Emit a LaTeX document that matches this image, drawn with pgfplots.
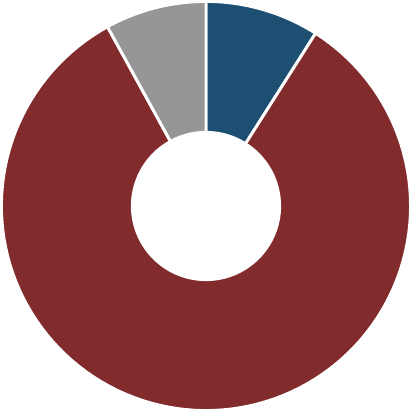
\documentclass[border=0pt]{standalone}
\usepackage{pgfplots}
\usepackage{pgfplotstable}
\pgfplotsset{compat=1.18}
\definecolor{cblue}{RGB}{28,79,114}
\definecolor{cred}{RGB}{130,43,45}
\definecolor{cgray}{RGB}{150,150,150}

% shares in percent, clockwise from the top
\pgfplotstableread{
share color
9  cblue
83 cred
8  cgray
}\shares

\begin{document}
\begin{tikzpicture}
\begin{axis}[
    hide axis, scale only axis,
    width=10cm, height=10cm,
    xmin=-1.015, xmax=1.015, ymin=-1.015, ymax=1.015,
    clip=false,
  ]
\def\start{90}
\pgfplotsforeachungrouped \i in {0,1,2} {
  \pgfplotstablegetelem{\i}{share}\of\shares \let\v\pgfplotsretval
  \pgfplotstablegetelem{\i}{color}\of\shares \let\c\pgfplotsretval
  \pgfmathsetmacro\stop{\start-3.6*\v}
  \edef\temp{\noexpand\draw[fill=\c, draw=white, line width=2pt, line join=round]
    plot[domain=\start:\stop, samples=120, variable=\noexpand\t] ({cos(\noexpand\t)},{sin(\noexpand\t)})
    -- plot[domain=\stop:\start, samples=120, variable=\noexpand\t] ({0.36*cos(\noexpand\t)},{0.36*sin(\noexpand\t)})
    -- cycle;}
  \temp
  \let\start\stop
}
\end{axis}
\end{tikzpicture}
\end{document}
